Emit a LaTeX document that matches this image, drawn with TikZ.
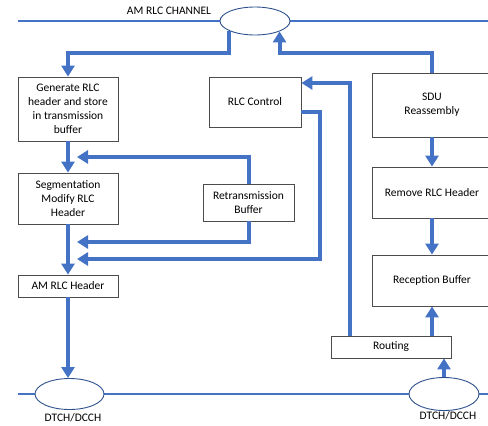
\documentclass[tikz,border=0pt]{standalone}
\usepackage{fontspec}
\setmainfont{Carlito}
\usetikzlibrary{arrows.meta,shapes.geometric,calc}
\definecolor{rlcblue}{HTML}{4472C4}
\definecolor{rlcedge}{HTML}{2F528F}
\begin{document}
\begin{tikzpicture}[x=1pt,y=-1pt,
     font=\fontsize{11.5}{14}\selectfont,
     box/.style={draw=black!70,line width=0.8pt,fill=white,align=center,inner sep=1pt},
     chan/.style={ellipse,draw=rlcedge,line width=0.9pt,fill=white,inner sep=0pt},
     flow/.style={draw=rlcblue,line width=4pt,-{Triangle[width=13pt,length=11pt]}},
     bus/.style={draw=rlcblue,line width=2pt}]
     		\useasboundingbox (0,0) rectangle (488,426);
     		% logical channels
     		\draw[bus] (18,21) -- (488,21);
     		\draw[bus] (18,394) -- (488,394);
     		\node[chan,minimum width=70pt,minimum height=28pt] (topch) at (255,21) {};
     		\node[chan,minimum width=69pt,minimum height=31pt] (dl) at (69.5,394) {};
     		\node[chan,minimum width=70pt,minimum height=33pt] (dr) at (444,394) {};
     		\node (chanlbl) at (169,11) {AM RLC CHANNEL};
     		\node (dllbl) at (73,418) {DTCH/DCCH};
     		\node (drlbl) at (448,416) {DTCH/DCCH};
     		% transmitting side
     		\node[box,minimum width=100pt,minimum height=64pt] (gen) at (68,109) {Generate RLC\\header and store\\in transmission\\buffer};
     		\node[box,minimum width=100pt,minimum height=51pt] (seg) at (68,198.5) {Segmentation\\Modify RLC\\Header};
     		\node[box,minimum width=100pt,minimum height=22pt] (amh) at (68,286) {AM RLC Header};
     		\node[box,minimum width=91pt,minimum height=37pt] (retr) at (248.5,202.5) {Retransmission\\Buffer};
     		\node[box,minimum width=92pt,minimum height=50pt] (rlcc) at (255,102) {RLC Control};
     		% receiving side
     		\node[box,minimum width=120pt,minimum height=64pt] (sdu) at (432,105) {SDU\\Reassembly};
     		\node[box,minimum width=120pt,minimum height=51pt] (remh) at (432,192.5) {Remove RLC Header};
     		\node[box,minimum width=120pt,minimum height=51pt] (recb) at (432,280.5) {Reception Buffer};
     		\node[box,minimum width=120pt,minimum height=22pt] (routing) at (391,347) {Routing};
     		% bend level and merge points
     		\coordinate (tx) at (0,53);
     		\coordinate (m1) at (77,157);
     		\coordinate (m2) at (77,242);
     		\coordinate (m3) at (77,259);
     		\draw[flow] (topch.201) |- (gen.north |- tx) -- (gen.north);
     		\draw[flow] (sdu.north) |- (topch.-23 |- tx) -- (topch.-23);
     		\draw[flow] ($(routing.north west)+(19,0)$) |- ($(rlcc.east)+(0,-19)$);
     		\draw[flow] ($(rlcc.east)+(0,10)$) -- ++(19,0) |- (m3);
     		\draw[flow] (retr.north) |- (m1);
     		\draw[flow] (retr.south) |- (m2);
     		\draw[flow] (gen.south) -- (seg.north);
     		\draw[flow] (seg.south) -- (amh.north);
     		\draw[flow] (amh.south) -- (amh.south |- dl.north);
     		\draw[flow] (sdu.south) -- (remh.north);
     		\draw[flow] (remh.south) -- (recb.north);
     		\draw[flow] (recb.south |- routing.north) -- (recb.south);
     		\draw[flow] (dr.north) -- (dr.north |- routing.south);
\end{tikzpicture}
\end{document}
